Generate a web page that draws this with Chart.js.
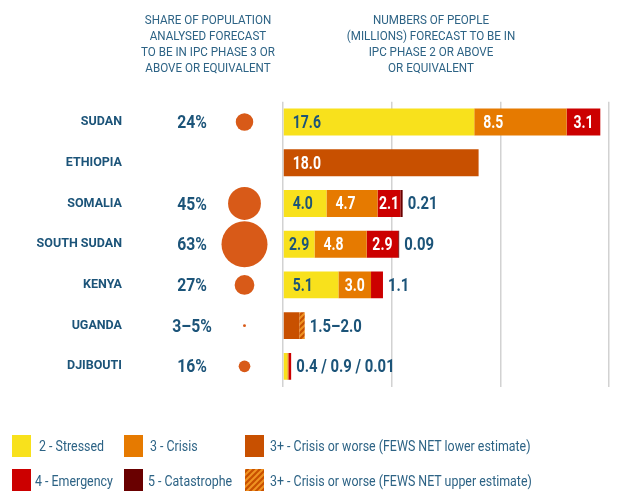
<!DOCTYPE html>
<html lang="en">
<head>
<meta charset="UTF-8">
<title>IPC phase forecast</title>
<script src="https://cdn.jsdelivr.net/npm/chart.js"></script>
<style>
  body { margin: 0; background: #fff; }
  #wrap { position: relative; width: 633px; height: 491px; overflow: hidden; font-family: Roboto, sans-serif; }
  #wrap canvas { position: absolute; left: 0; top: 0; }
  .head { position: absolute; top: 11px; width: 240px; text-align: center; font-size: 13.5px; line-height: 16px; color: #2d6385; transform: scaleX(0.86); }
  .lg { position: absolute; font-size: 15.5px; line-height: 18px; color: #2d6385; white-space: nowrap; transform: scaleX(0.8); transform-origin: 0 0; }
  #wrap canvas.sw { position: absolute; width: 19px; height: 22px; }
</style>
</head>
<body>
<div id="wrap">
  <canvas id="left" width="633" height="491"></canvas>
  <canvas id="bars" width="633" height="491"></canvas>
  <div class="head" style="left:88px">SHARE OF POPULATION<br>ANALYSED FORECAST<br>TO BE IN IPC PHASE 3 OR<br>ABOVE OR EQUIVALENT</div>
  <div class="head" style="left:311px">NUMBERS OF PEOPLE<br>(MILLIONS) FORECAST TO BE IN<br>IPC PHASE 2 OR ABOVE<br>OR EQUIVALENT</div>
  <div id="legend"></div>
</div>
<script>
const countries = ['SUDAN', 'ETHIOPIA', 'SOMALIA', 'SOUTH SUDAN', 'KENYA', 'UGANDA', 'DJIBOUTI'];
const shareLabels = ['24%', '', '45%', '63%', '27%', '3–5%', '16%'];
const shareValues = [24, null, 45, 63, 27, 4, 16];
const stressed = [17.6, null, 4.0, 2.9, 5.1, null, 0.4];
const crisis = [8.5, null, 4.7, 4.8, 3.0, null, 0.1];
const emergency = [3.1, null, 2.1, 2.9, 1.1, null, 0.25];
const catastrophe = [null, null, 0.21, 0.09, null, null, null];
const fewsLower = [null, 18.0, null, null, null, 1.5, null];
const fewsUpper = [null, null, null, null, null, 0.5, null];
const endLabels = ['', '', '0.21', '0.09', '1.1', '1.5–2.0', '0.4 / 0.9 / 0.01'];
const xTicks = [0, 10, 20, 30];

const FONT = 'Roboto, sans-serif';
const BLUE = '#1c5479';
const C = { yellow: '#f8e11c', orange: '#e67a00', red: '#cc0000', maroon: '#690000', lower: '#c85000', bubble: '#d85a18' };

// small tile for the hatched FEWS NET upper estimate
function hatchTile() {
  const p = document.createElement('canvas');
  p.width = 6; p.height = 6;
  const g = p.getContext('2d');
  g.fillStyle = C.lower; g.fillRect(0, 0, 6, 6);
  g.strokeStyle = '#ef9322'; g.lineWidth = 2;
  g.beginPath();
  g.moveTo(-1, 7); g.lineTo(7, -1);
  g.moveTo(-4, 4); g.lineTo(4, -4);
  g.moveTo(2, 10); g.lineTo(10, 2);
  g.stroke();
  return p;
}
const hatchFill = document.getElementById('bars').getContext('2d').createPattern(hatchTile(), 'repeat');

// condensed-looking text: squeeze horizontally
function narrowText(ctx, s, x, y, align, sx) {
  ctx.save();
  ctx.translate(x, y);
  ctx.scale(sx, 1);
  ctx.textAlign = align;
  ctx.fillText(s, 0, 0);
  ctx.restore();
}

const TOP = 101.7, BOTTOM = 491 - 386.7;

// left part: country names, share text and bubbles
const bubbles = [];
countries.forEach((c, i) => { if (shareValues[i] != null) bubbles.push({ x: 114.5, y: c, r: shareValues[i] * 0.365 }); });

new Chart(document.getElementById('left'), {
  type: 'bubble',
  data: {
    labels: countries,
    datasets: [{ data: bubbles, backgroundColor: C.bubble, borderWidth: 0, hoverBorderWidth: 0 }]
  },
  options: {
    responsive: false,
    animation: false,
    events: [],
    layout: { padding: { top: TOP, bottom: BOTTOM, left: 0, right: 350 } },
    plugins: { legend: { display: false }, tooltip: { enabled: false } },
    scales: {
      x: { type: 'linear', display: false, min: 0, max: 153 },
      y: {
        type: 'category', offset: true,
        grid: { display: false, drawTicks: false }, border: { display: false },
        ticks: { color: BLUE, font: { family: FONT, size: 12.5, weight: 'bold' }, padding: 8 },
        afterFit: s => { s.width = 130; }
      }
    }
  },
  plugins: [{
    id: 'shares',
    afterDatasetsDraw(chart) {
      const ctx = chart.ctx, y = chart.scales.y;
      ctx.save();
      ctx.font = 'bold 18.5px ' + FONT;
      ctx.fillStyle = BLUE;
      ctx.textBaseline = 'middle';
      shareLabels.forEach((t, i) => { if (t) narrowText(ctx, t, 192, y.getPixelForValue(i) + 1.5, 'center', 0.85); });
      ctx.restore();
    }
  }]
});

// right part: stacked bars
const sets = [
  { label: '2 - Stressed', data: stressed, backgroundColor: C.yellow, labelColor: BLUE, inside: true },
  { label: '3 - Crisis', data: crisis, backgroundColor: C.orange, labelColor: '#fff', inside: true },
  { label: '4 - Emergency', data: emergency, backgroundColor: C.red, labelColor: '#fff', inside: true },
  { label: '5 - Catastrophe', data: catastrophe, backgroundColor: C.maroon },
  { label: '3+ - Crisis or worse (FEWS NET lower estimate)', data: fewsLower, backgroundColor: C.lower, labelColor: '#fff', inside: true },
  { label: '3+ - Crisis or worse (FEWS NET upper estimate)', data: fewsUpper, backgroundColor: hatchFill }
];

new Chart(document.getElementById('bars'), {
  type: 'bar',
  data: { labels: countries, datasets: sets.map(s => Object.assign({ borderWidth: 0, barPercentage: 1, categoryPercentage: 0.66 }, s)) },
  options: {
    indexAxis: 'y',
    responsive: false,
    animation: false,
    events: [],
    layout: { padding: { top: TOP, bottom: BOTTOM, left: 283, right: 24 } },
    plugins: { legend: { display: false }, tooltip: { enabled: false } },
    scales: {
      x: {
        stacked: true, min: 0, max: 30,
        afterBuildTicks: s => { s.ticks = xTicks.map(v => ({ value: v })); },
        ticks: { display: false },
        grid: { color: '#d2d2d2', lineWidth: 1.5, drawTicks: false },
        border: { display: false },
        afterFit: s => { s.height = 0; }
      },
      y: { stacked: true, display: false }
    }
  },
  plugins: [{
    id: 'values',
    afterDatasetsDraw(chart) {
      const ctx = chart.ctx, SX = 0.8;
      ctx.save();
      ctx.font = 'bold 17.5px ' + FONT;
      ctx.textBaseline = 'middle';
      chart.data.datasets.forEach((ds, di) => {
        if (!ds.inside) return;
        chart.getDatasetMeta(di).data.forEach((bar, i) => {
          const v = ds.data[i];
          if (!v) return;
          const txt = v.toFixed(1);
          const tw = ctx.measureText(txt).width * SX;
          const w = bar.x - bar.base;
          if (w < tw + 1) return;
          ctx.fillStyle = ds.labelColor;
          narrowText(ctx, txt, bar.base + Math.min(9, (w - tw) / 2), bar.y + 1.5, 'left', SX);
        });
      });
      ctx.fillStyle = BLUE;
      endLabels.forEach((t, i) => {
        if (!t) return;
        let end = chart.scales.x.left, y = 0;
        chart.data.datasets.forEach((ds, di) => {
          const bar = chart.getDatasetMeta(di).data[i];
          y = bar.y;
          if (ds.data[i]) end = Math.max(end, bar.x);
        });
        narrowText(ctx, t, end + 5, y + 1.5, 'left', 0.85);
      });
      ctx.restore();
    }
  }]
});

// legend
const legendPos = [
  { sw: [12, 435], tx: [39, 437] }, { sw: [124, 435], tx: [150, 437] }, { sw: [245, 435], tx: [270, 437] },
  { sw: [12, 469], tx: [35, 472] }, { sw: [124, 469], tx: [148, 472] }, { sw: [245, 469], tx: [270, 472] }
];
const legendOrder = [0, 1, 4, 2, 3, 5];
const lg = document.getElementById('legend');
legendOrder.forEach((si, k) => {
  const s = sets[si], p = legendPos[k];
  const sw = document.createElement('canvas');
  sw.className = 'sw'; sw.width = 19; sw.height = 22;
  sw.style.left = p.sw[0] + 'px'; sw.style.top = p.sw[1] + 'px';
  const g = sw.getContext('2d');
  g.fillStyle = si === 5 ? g.createPattern(hatchTile(), 'repeat') : s.backgroundColor;
  g.fillRect(0, 0, 19, 22);
  lg.appendChild(sw);
  const t = document.createElement('div');
  t.className = 'lg'; t.textContent = s.label;
  t.style.left = p.tx[0] + 'px'; t.style.top = p.tx[1] + 'px';
  lg.appendChild(t);
});
</script>
</body>
</html>
